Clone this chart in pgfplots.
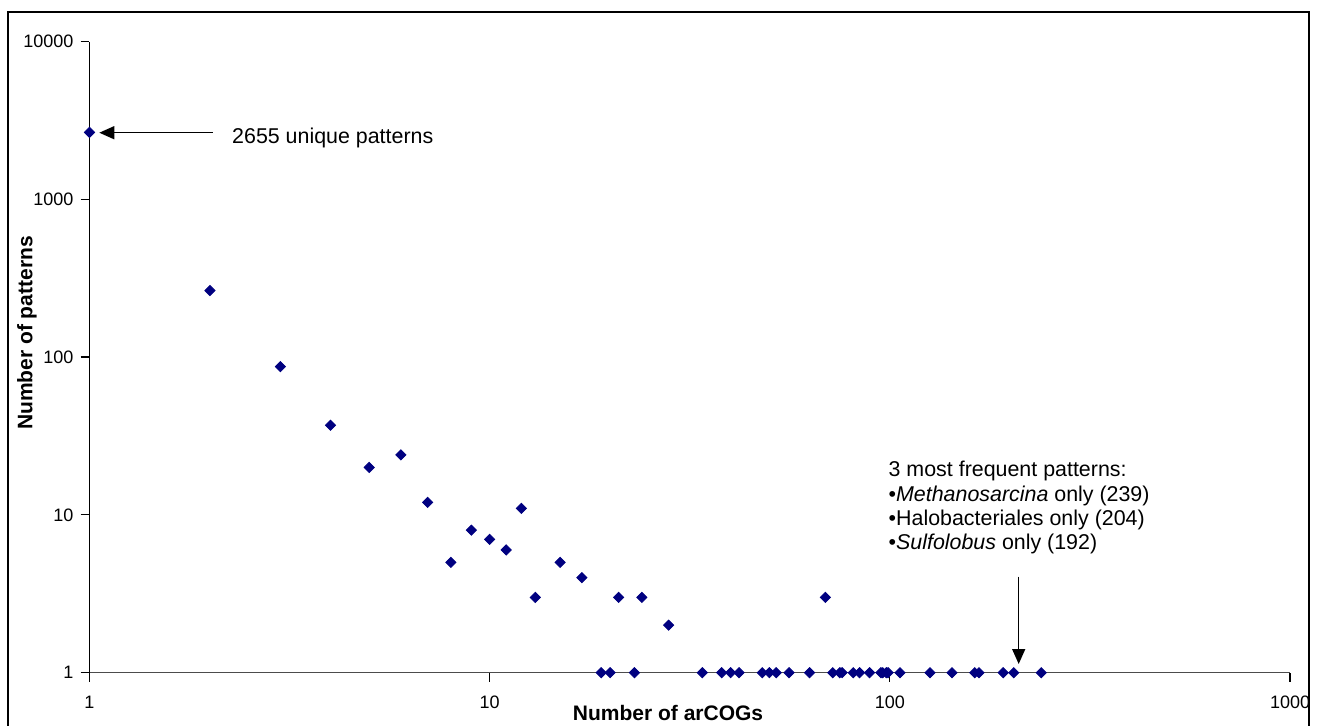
\documentclass[border=0pt]{standalone}
\usepackage{fontspec}
\setmainfont{Liberation Sans}
\usepackage{pgfplots}
\pgfplotsset{compat=1.18}
\usetikzlibrary{arrows.meta}
\definecolor{navy}{RGB}{0,0,128}

\begin{document}
\begin{tikzpicture}
% picture frame (1 px = 0.5pt, axis origin at px 89.5,672.7)
\useasboundingbox (-44.75pt,-26.65pt) rectangle (613.75pt,336.35pt);
\draw[line width=1pt] (-40.75pt,-30pt) -- (-40.75pt,330.35pt) -- (609.75pt,330.35pt) -- (609.75pt,-30pt);

\begin{axis}[
    scale only axis,
    width=600.25pt, height=315.6pt,
    xmode=log, ymode=log,
    xmin=1, xmax=1000, ymin=1, ymax=10000,
    axis x line*=bottom, axis y line*=left,
    xtick={1,10,100,1000}, xticklabels={1,10,100,1000},
    ytick={1,10,100,1000,10000}, yticklabels={1,10,100,1000,10000},
    xminorticks=false, yminorticks=false,
    tick align=outside,
    major tick length=4.5pt,
    tick style={black, line width=0.6pt},
    axis line style={line width=0.7pt},
    x axis line style={black!70},
    clip=false,
    tick label style={font=\fontsize{9}{10.8}\selectfont},
    xticklabel style={yshift=-3.5pt},
    xlabel={Number of arCOGs},
    ylabel={Number of patterns},
    xlabel style={at={(axis description cs:0.4819,-0.076)}, anchor=base, font=\fontsize{10.5}{12.6}\selectfont\bfseries},
    ylabel style={at={(axis description cs:-0.0521,0.538)}, anchor=center, font=\fontsize{10.5}{12.6}\selectfont\bfseries},
]
\addplot[only marks, navy, mark=square*, mark size=1.8pt,
    mark options={rotate=45, fill=navy, draw=navy}] coordinates {
(1,2655)(2,264)(3,87)(4,37)(5,20)(6,24)(7,12)(8,5)(9,8)(10,7)(11,6)(12,11)(13,3)
(15,5)(17,4)(19,1)(20,1)(21,3)(23,1)(24,3)(28,2)
(34,1)(38,1)(40,1)(42,1)(48,1)(50,1)(52,1)(56,1)(63,1)(69,3)(72,1)(75,1)(76,1)
(81,1)(84,1)(89,1)(95,1)(96,1)(98,1)(99,1)(106,1)(126,1)(143,1)(163,1)(167,1)
(192,1)(204,1)(239,1)
};

\draw[-{Triangle[length=7.5pt,width=6.5pt]}, line width=0.7pt] (axis cs:2.03,2642) -- (axis cs:1.058,2642);
\node[anchor=base west, inner sep=0, font=\fontsize{10.7}{12.8}\selectfont] at (axis cs:2.268,2274) {2655 unique patterns};

\draw[-{Triangle[length=7.5pt,width=6.5pt]}, line width=0.7pt] (axis cs:209.9,4.06) -- (axis cs:209.9,1.135);
\node[anchor=base west, inner sep=0, font=\fontsize{10.7}{12.8}\selectfont] at (axis cs:99.1,17.48) {3 most frequent patterns:};
\node[anchor=base west, inner sep=0, font=\fontsize{10.7}{12.8}\selectfont] at (axis cs:99.1,12.19) {•\textit{Methanosarcina} only (239)};
\node[anchor=base west, inner sep=0, font=\fontsize{10.7}{12.8}\selectfont] at (axis cs:99.1,8.55) {•Halobacteriales only (204)};
\node[anchor=base west, inner sep=0, font=\fontsize{10.7}{12.8}\selectfont] at (axis cs:99.1,6.02) {•\textit{Sulfolobus} only (192)};
\end{axis}
\end{tikzpicture}
\end{document}
